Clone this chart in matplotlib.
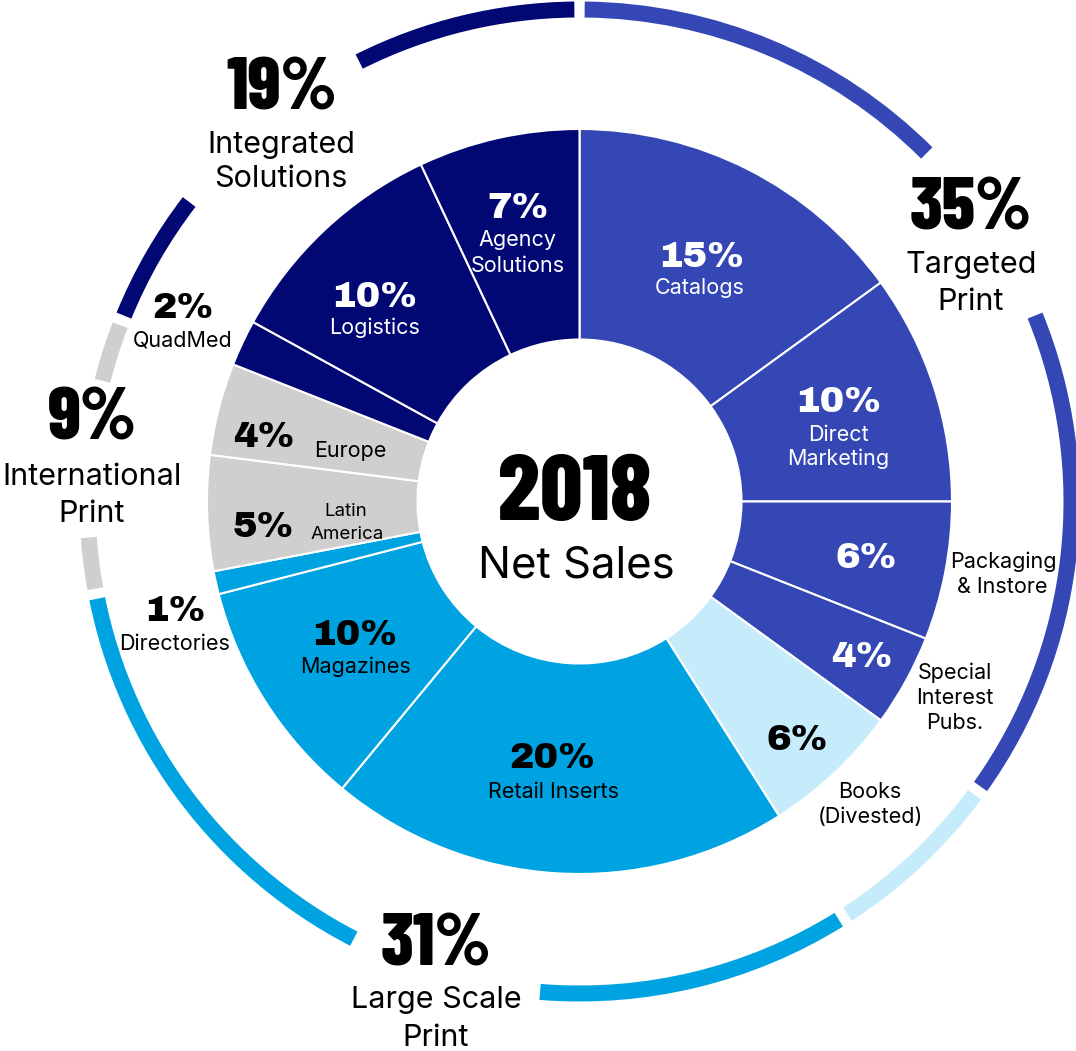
import matplotlib
matplotlib.use("Agg")
import matplotlib.pyplot as plt
from matplotlib.patches import Wedge
import numpy as np

# ---------------- data ----------------
segments = ["Catalogs", "Direct Marketing", "Packaging & Instore", "Special Interest Pubs.",
            "Books (Divested)", "Retail Inserts", "Magazines", "Directories",
            "Latin America", "Europe", "QuadMed", "Logistics", "Agency Solutions"]
segment_pct = [15, 10, 6, 4, 6, 20, 10, 1, 5, 4, 2, 10, 7]
segment_group = ["Targeted", "Targeted", "Targeted", "Targeted", "Books", "Large", "Large",
                 "Large", "International", "International", "Integrated", "Integrated",
                 "Integrated"]

groups = ["Targeted", "Books", "Large", "International", "Integrated"]
group_pct = [35, 6, 31, 9, 19]

year = "2018"
center_label = "Net Sales"

# ---------------- styles ----------------
group_colors = {"Targeted": "#3447B4", "Books": "#C6EBFB", "Large": "#00A3E2",
                "International": "#D0CECF", "Integrated": "#020873"}
seg_colors = [group_colors[g] for g in segment_group]

COND = ["Barlow Condensed", "DejaVu Sans"]
REG = ["Inter", "DejaVu Sans"]
HEAVY = ["Archivo Black", "Barlow", "Lato", "DejaVu Sans"]

W, H = 1076, 1051
fig = plt.figure(figsize=(W / 100, H / 100), dpi=100)
ax = fig.add_axes([0, 0, 1, 1])

cx, cy = 579.5, H - 501.5
R_out, R_in = 372.5, 162.0

ax.pie(segment_pct, colors=seg_colors, startangle=90, counterclock=False,
       radius=R_out, center=(cx, cy),
       wedgeprops=dict(width=R_out - R_in, edgecolor="white", linewidth=1.5))

# outer ring by group (clockwise degrees from top)
ring_r, ring_w = 500.0, 16.0
half_gap = 0.6
label_gaps = {"Targeted": (44.9, 67.8), "Large": (184.6, 207.3),
              "International": (265.8, 284.2), "Integrated": (307.5, 333.4)}
cum = np.concatenate([[0], np.cumsum(group_pct)]) * 3.6
for g, a0, a1 in zip(groups, cum[:-1], cum[1:]):
    pieces = [(a0 + half_gap, a1 - half_gap)]
    if g in label_gaps:
        ga, gb = label_gaps[g]
        pieces = [(a0 + half_gap, ga), (gb, a1 - half_gap)]
    for s, e in pieces:
        ax.add_patch(Wedge((cx, cy), ring_r, 90 - e, 90 - s, width=ring_w,
                           facecolor=group_colors[g], edgecolor="none"))

ax.set_xlim(0, W)
ax.set_ylim(0, H)
ax.set_aspect("equal")
ax.axis("off")


def T(x, y, s, size, fam, weight="normal", color="black"):
    ax.text(x, H - y, s, fontsize=size, family=fam, fontweight=weight, color=color,
            ha="center", va="baseline")


# centre
T(575, 520, year, 67, COND, 800)
T(576, 577, center_label, 31.5, REG)

# group labels
BIG = 53
GL = 22
T(282, 110, f"{group_pct[4]}%", BIG, COND, 800)
T(281, 153, "Integrated", GL, REG)
T(281, 187, "Solutions", GL, REG)
T(971, 230, f"{group_pct[0]}%", BIG, COND, 800)
T(971, 273, "Targeted", GL, REG)
T(971, 310, "Print", GL, REG)
T(92, 440, f"{group_pct[3]}%", BIG, COND, 800)
T(92, 485, "International", GL, REG)
T(92, 522, "Print", GL, REG)
T(436, 965, f"{group_pct[2]}%", BIG, COND, 800)
T(436, 1008, "Large Scale", GL, REG)
T(436, 1046, "Print", GL, REG)

# segment labels
PS = 26.5
LS = 15.5
W_ = "white"
HW = 800
pct = dict(zip(segments, segment_pct))
T(701, 267, f"{pct['Catalogs']}%", PS, HEAVY, HW, W_)
T(700, 294, "Catalogs", LS, REG, color=W_)
T(838, 412, f"{pct['Direct Marketing']}%", PS, HEAVY, HW, W_)
T(838, 441, "Direct", LS, REG, color=W_)
T(838, 465, "Marketing", LS, REG, color=W_)
T(866, 568, f"{pct['Packaging & Instore']}%", PS, HEAVY, HW, W_)
T(1003, 568, "Packaging", LS, REG)
T(1002, 593, "& Instore", LS, REG)
T(862, 667, f"{pct['Special Interest Pubs.']}%", PS, HEAVY, HW, W_)
T(955, 679, "Special", LS, REG)
T(955, 704, "Interest", LS, REG)
T(955, 729, "Pubs.", LS, REG)
T(797, 750, f"{pct['Books (Divested)']}%", PS, HEAVY, HW)
T(870, 798, "Books", LS, REG)
T(870, 823, "(Divested)", LS, REG)
T(552, 768, f"{pct['Retail Inserts']}%", PS, HEAVY, HW)
T(553, 798, "Retail Inserts", LS, REG)
T(354, 645, f"{pct['Magazines']}%", PS, HEAVY, HW)
T(355, 673, "Magazines", LS, REG)
T(175, 621, f"{pct['Directories']}%", PS, HEAVY, HW)
T(175, 650, "Directories", LS, REG)
T(263, 537, f"{pct['Latin America']}%", PS, HEAVY, HW)
T(346, 516, "Latin", 13.5, REG)
T(347, 539, "America", 13.5, REG)
T(264, 447, f"{pct['Europe']}%", PS, HEAVY, HW)
T(350, 457, "Europe", LS, REG)
T(183, 318, f"{pct['QuadMed']}%", PS, HEAVY, HW)
T(183, 347, "QuadMed", LS, REG)
T(374, 307, f"{pct['Logistics']}%", PS, HEAVY, HW, W_)
T(375, 334, "Logistics", LS, REG, color=W_)
T(518, 218, f"{pct['Agency Solutions']}%", PS, HEAVY, HW, W_)
T(517, 246, "Agency", LS, REG, color=W_)
T(518, 272, "Solutions", LS, REG, color=W_)

fig.savefig("out.png", dpi=100, facecolor="white")
